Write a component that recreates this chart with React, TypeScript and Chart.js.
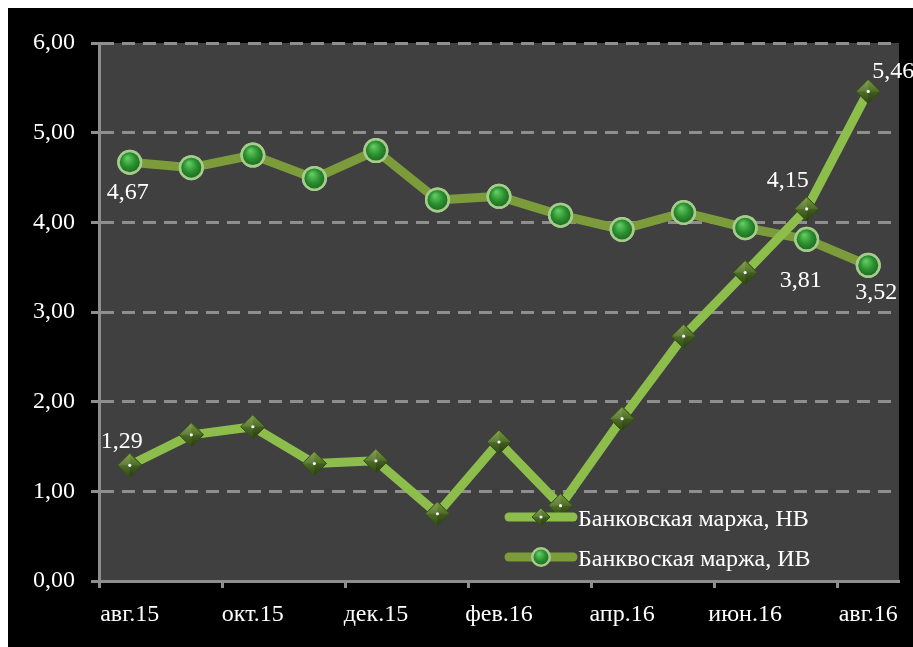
import React, { useEffect, useRef } from 'react';
import { Chart, registerables } from 'chart.js';

Chart.register(...registerables);

// ---------- data ----------
const categories = ['авг.15', 'сен.15', 'окт.15', 'ноя.15', 'дек.15', 'янв.16', 'фев.16', 'мар.16', 'апр.16', 'май.16', 'июн.16', 'июл.16', 'авг.16'];
const seriesNames = ['Банковская маржа, НВ', 'Банквоская маржа, ИВ'];
const marginNominal = [1.29, 1.63, 1.72, 1.31, 1.34, 0.75, 1.55, 0.84, 1.81, 2.73, 3.44, 4.15, 5.46];
const marginReal = [4.67, 4.61, 4.75, 4.49, 4.8, 4.25, 4.29, 4.08, 3.92, 4.11, 3.94, 3.81, 3.52];
const yTickValues = [0, 1, 2, 3, 4, 5, 6];
const labeledNominal = [0, 11, 12];
const labeledReal = [0, 11, 12];

// ---------- styles ----------
const FONT = "'Liberation Serif', 'Times New Roman', serif";
const FONT_SIZE = 24;
const AXIS_GRAY = '#8e8e8e';
const PLOT_BG = '#404040';
const NOMINAL_LINE = '#8DBE4B';
const REAL_LINE = '#7C9C3C';
// label offsets (dx, dy) from the point centre, same order as labeled indices
const nominalLabelOffsets = [[-8, -24], [-19, -28], [25, -20]];
const realLabelOffsets = [[-2, 30], [-6, 41], [8, 27]];

const fmt = (v: number) => v.toFixed(2).replace('.', ',');

function drawDiamond(ctx: CanvasRenderingContext2D, x: number, y: number, r: number) {
  ctx.save();
  ctx.beginPath();
  ctx.moveTo(x, y - r);
  ctx.lineTo(x + r, y);
  ctx.lineTo(x, y + r);
  ctx.lineTo(x - r, y);
  ctx.closePath();
  const g = ctx.createLinearGradient(x, y - r, x, y + r);
  g.addColorStop(0, '#78993F');
  g.addColorStop(0.5, '#4F6E27');
  g.addColorStop(1, '#2F4915');
  ctx.fillStyle = g;
  ctx.fill();
  ctx.lineWidth = 1;
  ctx.strokeStyle = '#354F1A';
  ctx.stroke();
  ctx.beginPath();
  ctx.moveTo(x - r, y);
  ctx.lineTo(x, y - r);
  ctx.lineTo(x, y);
  ctx.closePath();
  ctx.fillStyle = 'rgba(255,255,255,0.10)';
  ctx.fill();
  ctx.beginPath();
  ctx.moveTo(x, y + r);
  ctx.lineTo(x + r, y);
  ctx.lineTo(x, y);
  ctx.closePath();
  ctx.fillStyle = 'rgba(0,0,0,0.15)';
  ctx.fill();
  ctx.beginPath();
  ctx.arc(x, y, 1.6, 0, Math.PI * 2);
  ctx.fillStyle = '#f4f4f4';
  ctx.fill();
  ctx.restore();
}

function drawBall(ctx: CanvasRenderingContext2D, x: number, y: number, r: number) {
  ctx.save();
  ctx.beginPath();
  ctx.arc(x, y, r, 0, Math.PI * 2);
  ctx.fillStyle = '#A6CC8C';
  ctx.fill();
  ctx.beginPath();
  ctx.arc(x, y, r - 2.5, 0, Math.PI * 2);
  const g = ctx.createRadialGradient(x - r * 0.2, y - r * 0.35, 1, x, y, r);
  g.addColorStop(0, '#5FC85F');
  g.addColorStop(0.5, '#2B9130');
  g.addColorStop(1, '#1A5E1E');
  ctx.fillStyle = g;
  ctx.fill();
  ctx.restore();
}

const plotBgPlugin = {
  id: 'plotBg',
  beforeDraw(chart: any) {
    const { ctx, chartArea } = chart;
    ctx.save();
    ctx.fillStyle = PLOT_BG;
    ctx.fillRect(chartArea.left, chartArea.top, chartArea.right - chartArea.left, chartArea.bottom - chartArea.top);
    ctx.restore();
  },
};

const markerPlugin = {
  id: 'markerDecor',
  afterDatasetDraw(chart: any, args: any) {
    const ctx = chart.ctx;
    const meta = args.meta;
    const ds = chart.data.datasets[args.index];
    meta.data.forEach((el: any) => {
      const r = ds.pointRadius;
      if (ds.pointStyle === 'rectRot') drawDiamond(ctx, el.x, el.y, r);
      else drawBall(ctx, el.x, el.y, r + 1.5);
    });
  },
};

const legendPlugin = {
  id: 'insideLegend',
  afterDraw(chart: any) {
    const { ctx, chartArea } = chart;
    const x0 = chartArea.left + 406;
    const len = 72;
    chart.data.datasets.forEach((ds: any, i: number) => {
      const y = chartArea.bottom - 64 + i * 40;
      ctx.save();
      ctx.strokeStyle = ds.borderColor;
      ctx.lineWidth = 9;
      ctx.lineCap = 'round';
      ctx.beginPath();
      ctx.moveTo(x0 + 4, y);
      ctx.lineTo(x0 + len - 4, y);
      ctx.stroke();
      ctx.restore();
      if (ds.pointStyle === 'rectRot') drawDiamond(ctx, x0 + len / 2, y, 9);
      else drawBall(ctx, x0 + len / 2, y, 10);
      ctx.save();
      ctx.fillStyle = '#ffffff';
      ctx.font = `${FONT_SIZE}px ${FONT}`;
      ctx.textAlign = 'left';
      ctx.textBaseline = 'middle';
      ctx.fillText(ds.label, x0 + len + 1, y + 3);
      ctx.restore();
    });
  },
};

const dataLabelPlugin = {
  id: 'dataLabels',
  afterDraw(chart: any) {
    const ctx = chart.ctx;
    const specs = [
      { ds: 0, idx: labeledNominal, off: nominalLabelOffsets, values: marginNominal },
      { ds: 1, idx: labeledReal, off: realLabelOffsets, values: marginReal },
    ];
    ctx.save();
    ctx.fillStyle = '#ffffff';
    ctx.font = `${FONT_SIZE}px ${FONT}`;
    ctx.textAlign = 'center';
    ctx.textBaseline = 'middle';
    specs.forEach((s) => {
      const meta = chart.getDatasetMeta(s.ds);
      s.idx.forEach((i, k) => {
        const el = meta.data[i];
        if (!el) return;
        ctx.fillText(fmt(s.values[i]), el.x + s.off[k][0], el.y + s.off[k][1]);
      });
    });
    ctx.restore();
  },
};

export default function App() {
  const ref = useRef<HTMLCanvasElement | null>(null);

  useEffect(() => {
    if (!ref.current) return;
    const font = { family: FONT, size: FONT_SIZE };
    const chart = new Chart(ref.current, {
      type: 'line',
      data: {
        labels: categories,
        datasets: [
          {
            label: seriesNames[0],
            data: marginNominal,
            borderColor: NOMINAL_LINE,
            backgroundColor: NOMINAL_LINE,
            borderWidth: 9,
            borderJoinStyle: 'round',
            borderCapStyle: 'round',
            tension: 0,
            pointStyle: 'rectRot',
            pointRadius: 12,
            pointBackgroundColor: '#4F6E27',
            pointBorderColor: '#354F1A',
            pointBorderWidth: 1,
          } as any,
          {
            label: seriesNames[1],
            data: marginReal,
            borderColor: REAL_LINE,
            backgroundColor: REAL_LINE,
            borderWidth: 9,
            borderJoinStyle: 'round',
            borderCapStyle: 'round',
            tension: 0,
            pointStyle: 'circle',
            pointRadius: 11,
            pointBackgroundColor: '#2B8C2F',
            pointBorderColor: '#A6CC8C',
            pointBorderWidth: 3,
          } as any,
        ],
      },
      options: {
        animation: false,
        responsive: false,
        maintainAspectRatio: false,
        events: [],
        layout: { padding: { top: 35, right: 12, left: 0, bottom: 0 } },
        plugins: {
          legend: { display: false },
          tooltip: { enabled: false },
          title: { display: false },
        },
        scales: {
          x: {
            type: 'category',
            offset: true,
            grid: {
              offset: true,
              drawOnChartArea: false,
              drawTicks: true,
              tickLength: 7,
              tickWidth: 3,
              tickColor: (c: any) => (c.index % 2 === 0 && c.index < categories.length ? AXIS_GRAY : 'rgba(0,0,0,0)'),
            },
            border: { display: true, color: AXIS_GRAY, width: 3 },
            ticks: {
              autoSkip: false,
              maxRotation: 0,
              minRotation: 0,
              color: '#ffffff',
              font,
              padding: 12,
              callback: (_v: any, i: number) => (i % 2 === 0 ? categories[i] : ''),
            },
            afterFit: (s: any) => {
              s.height = 66;
            },
          },
          y: {
            type: 'linear',
            min: yTickValues[0],
            max: yTickValues[yTickValues.length - 1],
            afterBuildTicks: (s: any) => {
              s.ticks = yTickValues.map((v) => ({ value: v }));
            },
            ticks: {
              color: '#ffffff',
              font,
              padding: 16,
              callback: (v: any) => fmt(Number(v)),
            },
            grid: {
              color: AXIS_GRAY,
              lineWidth: 3,
              tickLength: 8,
              tickWidth: 3,
              tickColor: AXIS_GRAY,
            },
            border: { display: true, color: AXIS_GRAY, width: 3, dash: [13, 8] },
            afterFit: (s: any) => {
              s.width = 91;
            },
          },
        },
      } as any,
      plugins: [plotBgPlugin, markerPlugin, legendPlugin, dataLabelPlugin],
    });
    return () => chart.destroy();
  }, []);

  return (
    <div style={{ position: 'fixed', left: 0, top: 0, right: 0, bottom: 0, overflow: 'hidden', background: '#ffffff' }}>
      <div style={{ position: 'absolute', left: 8, top: 8, right: 0, bottom: 0, background: '#000000' }}>
        <canvas ref={ref} width={905} height={639} style={{ display: 'block', width: 905, height: 639 }} />
      </div>
    </div>
  );
}
